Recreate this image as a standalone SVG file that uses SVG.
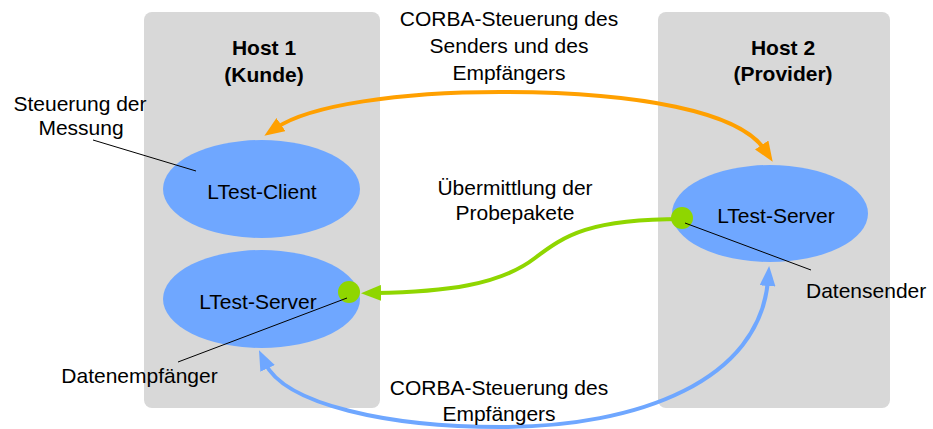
<svg xmlns="http://www.w3.org/2000/svg" width="933" height="429" viewBox="0 0 933 429">
<style>
text{font-family:"Liberation Sans",Arial,sans-serif;font-size:21px;fill:#000}
.t{text-anchor:middle}
.b{font-weight:bold}
.host{fill:#d8d8d8}
.ell{fill:#6fa7ff}
.dot{fill:#8fd600}
.lead{stroke:#000;stroke-width:1;fill:none}
.c{fill:none;stroke-width:4}
</style>
<defs>
<marker id="aO" markerUnits="userSpaceOnUse" markerWidth="22" markerHeight="16" refX="6" refY="8" orient="auto-start-reverse"><path d="M0,0 L20,8 L0,16 z" fill="#ffa000"/></marker>
<marker id="aG" markerUnits="userSpaceOnUse" markerWidth="22" markerHeight="16" refX="6" refY="8" orient="auto-start-reverse"><path d="M0,0 L20,8 L0,16 z" fill="#8fd600"/></marker>
<marker id="aB" markerUnits="userSpaceOnUse" markerWidth="22" markerHeight="16" refX="6" refY="8" orient="auto-start-reverse"><path d="M0,0 L20,8 L0,16 z" fill="#6fa7ff"/></marker>
</defs>
<g id="host1">
<rect class="host" x="144" y="12" width="236" height="396" rx="8"/>
<text class="t b" x="264" y="55">Host 1</text>
<text class="t b" x="264" y="82">(Kunde)</text>
</g>
<g id="host2">
<rect class="host" x="658" y="12" width="232" height="396" rx="8"/>
<text class="t b" x="783" y="55">Host 2</text>
<text class="t b" x="783" y="81">(Provider)</text>
</g>
<g id="connectors">
<path class="c" stroke="#ffa000" d="M 765,150 C 740,112 640,92 500,92 C 400,92 310,105 276,128" marker-end="url(#aO)" marker-start="url(#aO)"/>
<path class="c" stroke="#8fd600" d="M 682,219 C 590,219 565,235 535,258 C 500,285 445,292 375,293" marker-end="url(#aG)"/>
<path class="c" stroke="#6fa7ff" d="M 265,363 C 285,405 390,427 500,427 C 640,427 760,380 768,280" marker-start="url(#aB)" marker-end="url(#aB)"/>
</g>
<g id="client">
<ellipse class="ell" cx="261.5" cy="189" rx="98.5" ry="49"/>
<text class="t" x="262" y="199">LTest-Client</text>
</g>
<g id="server1">
<ellipse class="ell" cx="261.5" cy="299" rx="98.5" ry="49"/>
<text class="t" x="258" y="309">LTest-Server</text>
<circle class="dot" cx="349" cy="292" r="11"/>
</g>
<g id="server2">
<ellipse class="ell" cx="770" cy="213.5" rx="98" ry="48.5"/>
<text class="t" x="776" y="223">LTest-Server</text>
<circle class="dot" cx="682" cy="218" r="11"/>
</g>
<g id="annotations">
<line class="lead" x1="93" y1="140" x2="196" y2="171"/>
<line class="lead" x1="178" y1="362" x2="347" y2="298"/>
<line class="lead" x1="685" y1="223" x2="811" y2="270"/>
<text class="t" x="80" y="111">Steuerung der</text>
<text class="t" x="81" y="135">Messung</text>
<text class="t" x="139.5" y="383">Datenempfänger</text>
<text x="806" y="298">Datensender</text>
<text class="t" x="509" y="26">CORBA-Steuerung des</text>
<text class="t" x="509" y="53">Senders und des</text>
<text class="t" x="509" y="80">Empfängers</text>
<text class="t" x="515" y="195">Übermittlung der</text>
<text class="t" x="515" y="220">Probepakete</text>
<text class="t" x="499" y="395">CORBA-Steuerung des</text>
<text class="t" x="499" y="421">Empfängers</text>
</g>
</svg>
